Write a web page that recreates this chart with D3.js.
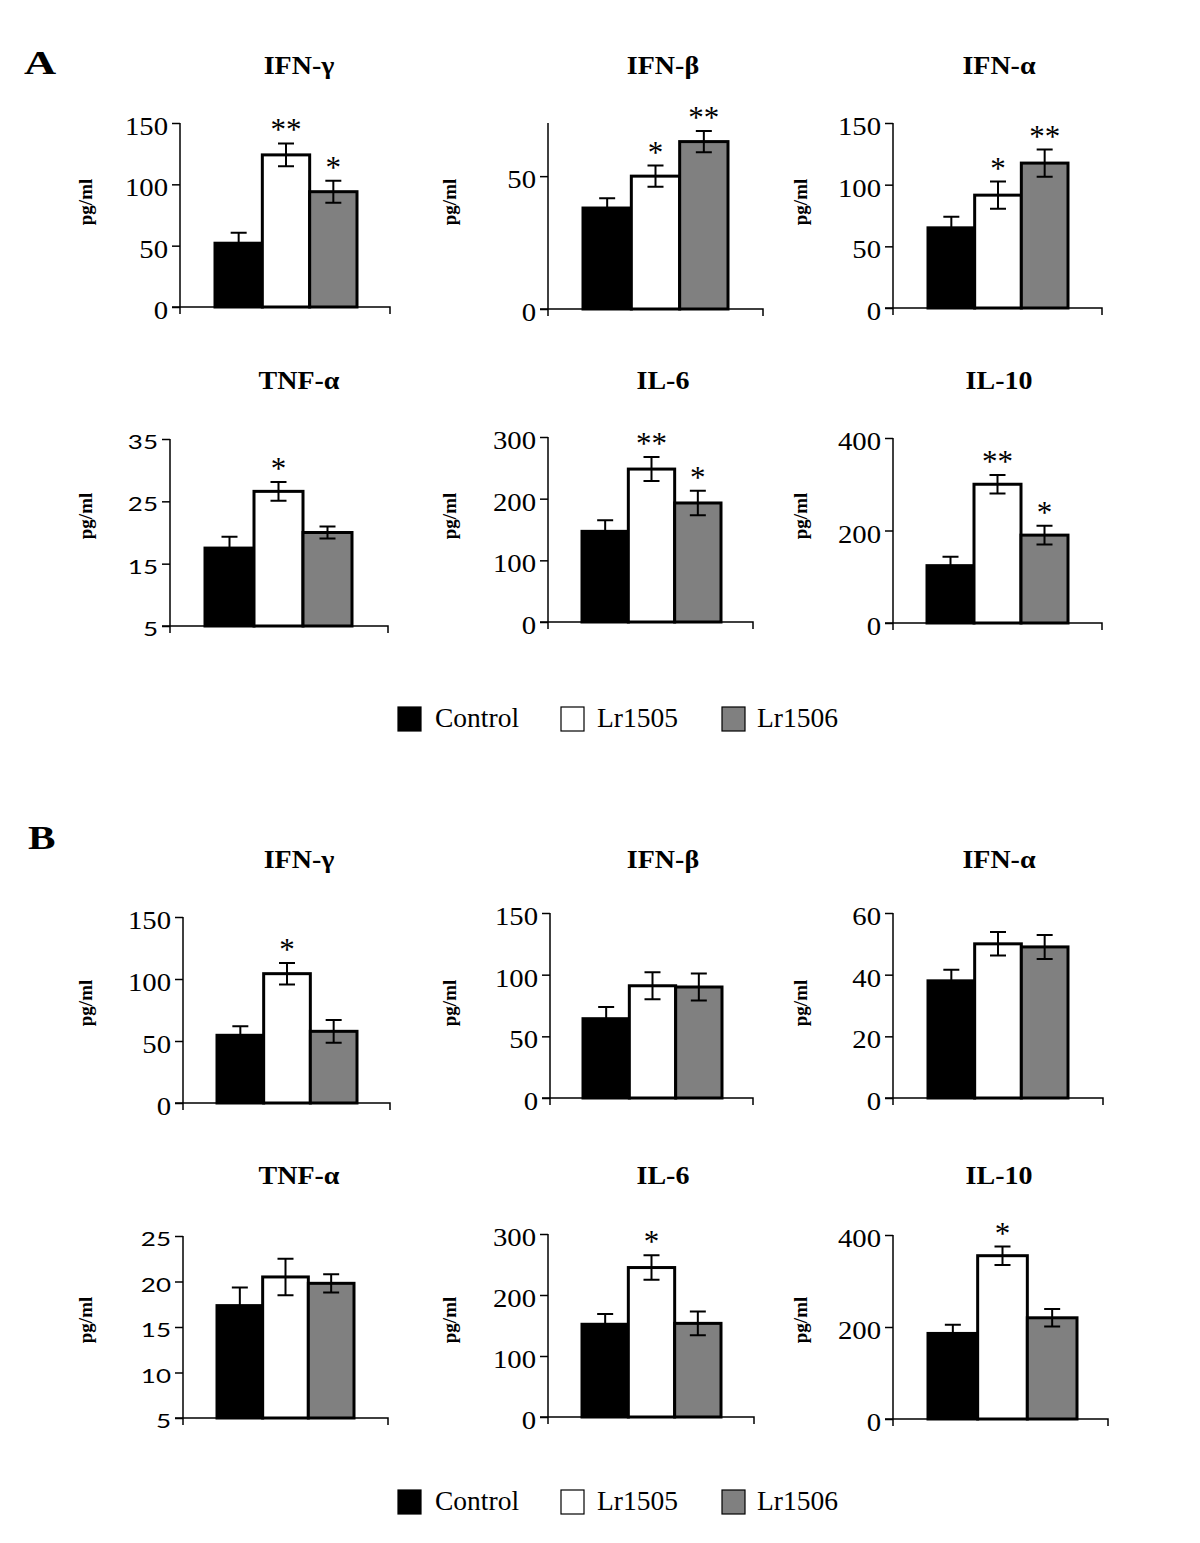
<!DOCTYPE html>
<html><head><meta charset="utf-8">
<script src="https://cdn.jsdelivr.net/npm/d3@7"></script>
<style>body{margin:0;background:#fff}svg{display:block}</style>
</head><body>
<svg id="chart" width="1200" height="1543"></svg>
<script>
// ---------- DATA ----------
const groups = ["Control", "Lr1505", "Lr1506"];
const cytokines = ["IFN-γ", "IFN-β", "IFN-α", "TNF-α", "IL-6", "IL-10"];

// Panel A means / SEM
const meansA = [[52, 124, 94], [38, 50, 63], [65, 91.5, 117.5], [17.5, 26.6, 20], [147, 248, 193], [124, 300, 190]];
const errA   = [[8.5, 9.3, 9], [3.7, 4, 4], [9, 11, 11], [1.8, 1.5, 0.95], [18, 19.5, 20], [19.5, 20, 20.5]];
const starsA = [["", "**", "*"], ["", "*", "**"], ["", "*", "**"], ["", "*", ""], ["", "**", "*"], ["", "**", "*"]];

// Panel B means / SEM
const meansB = [[54.6, 104.3, 57.8], [64.3, 91, 90], [38, 50, 49], [17.35, 20.5, 19.8], [152, 245, 153.5], [186, 355, 220]];
const errB   = [[7.2, 8.7, 9.2], [9.5, 11, 11], [3.6, 3.8, 3.9], [2, 2, 1], [17, 20, 19.5], [19, 20, 19]];
const starsB = [["", "*", ""], ["", "", ""], ["", "", ""], ["", "", ""], ["", "*", ""], ["", "*", ""]];

// Axis domains and tick labels
const domainsA = [[0, 150], [0, 70], [0, 150], [5, 35], [0, 300], [0, 400]];
const ticksA   = [[0, 50, 100, 150], [0, 50], [0, 50, 100, 150], [5, 15, 25, 35], [0, 100, 200, 300], [0, 200, 400]];
const domainsB = [[0, 150], [0, 150], [0, 60], [5, 25], [0, 300], [0, 400]];
const ticksB   = [[0, 50, 100, 150], [0, 50, 100, 150], [0, 20, 40, 60], [5, 10, 15, 20, 25], [0, 100, 200, 300], [0, 200, 400]];
const sansTicks = [false, false, false, true, false, false];

const yLabel = "pg/ml";
const colors = ["#000000", "#ffffff", "#808080"];

// ---------- LAYOUT ----------
// [axisX, yTop, yZero, xEnd, barStart, barEnd]
const layoutA = [
  [180, 123, 307, 390, 215, 357], [548, 123, 309, 763, 583, 728], [893, 123, 308, 1102, 928, 1068],
  [170, 439, 626, 388, 205, 352], [548, 437, 622, 753, 582, 721], [893, 438, 623, 1102, 927, 1068]
];
const layoutB = [
  [183, 917, 1103, 390, 217, 357], [550, 913, 1098, 753, 583, 722], [893, 913, 1098, 1103, 928, 1068],
  [183, 1236, 1418, 388, 217, 354], [548, 1234, 1417, 754, 582, 721], [893, 1235, 1419, 1108, 928, 1077]
];
const titleX = [299, 663, 999];
const titleYA = [74, 389], titleYB = [868, 1184];
const ylabX = [85, 449, 800];
const ylabYA = [202, 516], ylabYB = [1003, 1320];

const SERIF = "'Liberation Serif','Times New Roman',serif";
const SANS = "Lato, Carlito, 'Liberation Sans', sans-serif";

const svg = d3.select("#chart");

function stretchedText(g, x, y, txt, opts) {
  return g.append("text")
    .attr("transform", `translate(${x},${y}) scale(${opts.sx || 1},1)`)
    .attr("text-anchor", opts.anchor || "start")
    .attr("font-family", opts.family || SERIF)
    .attr("font-size", opts.size)
    .attr("font-weight", opts.weight || "normal")
    .attr("fill", "#000")
    .text(txt);
}

function drawPanel(i, means, errs, stars, domain, ticks, lay, titleY, ylabY) {
  const [ax, yTop, yZero, xEnd, b0, b1] = lay;
  const g = svg.append("g");
  const y = d3.scaleLinear().domain(domain).range([yZero, yTop]);
  const x = d3.scaleBand().domain(groups).range([b0, b1]).padding(0);
  const col = i % 3;

  // title
  stretchedText(g, titleX[col], titleY, cytokines[i], {size: 25, weight: "bold", anchor: "middle", sx: 1.12});

  // y label
  g.append("text")
    .attr("transform", `translate(${ylabX[col]},${ylabY}) rotate(-90)`)
    .attr("text-anchor", "middle").attr("dominant-baseline", "central")
    .attr("font-family", SERIF).attr("font-weight", "bold").attr("font-size", 19)
    .text(yLabel);

  // y axis
  const yAxis = d3.axisLeft(y).tickValues(ticks).tickSize(8).tickFormat("");
  const ya = g.append("g").attr("transform", `translate(${ax},0)`).call(yAxis);
  ya.select(".domain").attr("d", `M0,${yTop}V${yZero + 7}`).attr("stroke", "#000").attr("stroke-width", 1.5);
  ya.selectAll(".tick line").attr("stroke", "#000").attr("stroke-width", 1.5);

  // tick labels
  const sans = sansTicks[i];
  ticks.forEach(t => {
    if (sans) stretchedText(g, ax - 12, y(t) + 10, String(t), {size: 20, anchor: "end", family: SANS, sx: 1.3});
    else stretchedText(g, ax - 12, y(t) + 12, String(t), {size: 25, anchor: "end", sx: 1.15});
  });

  // x axis
  g.append("path").attr("d", `M${ax - 8},${yZero}H${xEnd}V${yZero + 7}`)
    .attr("fill", "none").attr("stroke", "#000").attr("stroke-width", 1.5);

  // bars
  g.selectAll("rect.bar").data(groups).enter().append("rect")
    .attr("class", "bar")
    .attr("x", d => x(d)).attr("width", x.bandwidth())
    .attr("y", (d, k) => y(means[k]))
    .attr("height", (d, k) => yZero - y(means[k]))
    .attr("fill", (d, k) => colors[k]).attr("stroke", "#000").attr("stroke-width", 3);

  // error bars
  const cap = 8;
  groups.forEach((gName, k) => {
    const cx = x(gName) + x.bandwidth() / 2;
    const hi = y(means[k] + errs[k]), lo = y(means[k] - errs[k]);
    g.append("path")
      .attr("d", `M${cx},${hi}V${lo}M${cx - cap},${hi}H${cx + cap}M${cx - cap},${lo}H${cx + cap}`)
      .attr("stroke", "#000").attr("stroke-width", 2).attr("fill", "none");
    if (stars[k]) {
      stretchedText(g, cx, hi - 18 + 15, stars[k], {size: 31, anchor: "middle", sx: 1.0});
    }
  });
}

for (let i = 0; i < 6; i++) {
  const r = Math.floor(i / 3);
  drawPanel(i, meansA[i], errA[i], starsA[i], domainsA[i], ticksA[i], layoutA[i], titleYA[r], ylabYA[r]);
  drawPanel(i, meansB[i], errB[i], starsB[i], domainsB[i], ticksB[i], layoutB[i], titleYB[r], ylabYB[r]);
}

// section letters
stretchedText(svg, 24, 74, "A", {size: 33, weight: "bold", sx: 1.35});
stretchedText(svg, 28, 849, "B", {size: 33, weight: "bold", sx: 1.25});

// legends
function legend(yCenter) {
  const items = [[398, 435], [561, 597], [722, 757]];
  groups.forEach((gName, k) => {
    svg.append("rect").attr("x", items[k][0]).attr("y", yCenter - 12).attr("width", 23).attr("height", 24)
      .attr("fill", colors[k]).attr("stroke", "#000").attr("stroke-width", 1.2);
    svg.append("text").attr("x", items[k][1]).attr("y", yCenter + 8)
      .attr("font-family", SERIF).attr("font-size", 27.5).text(gName);
  });
}
legend(719);
legend(1502);
</script>
</body></html>
